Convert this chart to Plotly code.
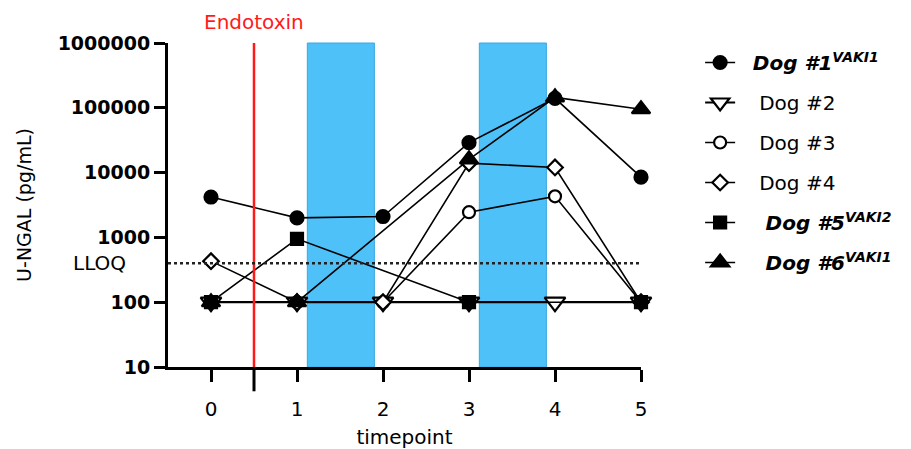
import math
import plotly.graph_objects as go

# Sampling timepoints and urinary NGAL per dog (pg/mL); None = no sample
timepoints = [0, 1, 2, 3, 4, 5]
dog1 = [4200, 2000, 2100, 29000, 140000, 8500]
dog2 = [100, 100, 100, 100, 100, 100]
dog3 = [100, 100, 100, 2450, 4300, 100]
dog4 = [430, 100, 100, 14000, 12000, 100]
dog5 = [100, 950, None, 100, None, 100]
dog6 = [100, 100, None, 16000, 145000, 95000]

lloq = 400
endotoxin_time = 0.5
treatment_windows = [(1.12, 1.9), (3.12, 3.9)]

y_ticks = [10, 100, 1000, 10000, 100000, 1000000]
y_tick_text = ["10", "100", "1000", "10000", "100000", "1000000"]
x_ticks = [0, 1, 2, 3, 4, 5]

FONT = "DejaVu Sans"
NB = "\u00a0"

series = [
    # name, values, symbol, size, filled, legend position
    (NB * 3 + "Dog #2", dog2, "triangle-down", 18, False, 2),
    (NB * 3 + "Dog #3", dog3, "circle", 12, False, 3),
    (NB * 3 + "Dog #4", dog4, "diamond", 12, False, 4),
    (NB * 4 + "<b><i>Dog #5<sup>VAKI2</sup></i></b>", dog5, "square", 12, True, 5),
    (NB * 4 + "<b><i>Dog #6<sup>VAKI1</sup></i></b>", dog6, "triangle-up", 16, True, 6),
    (NB * 2 + "<b><i>Dog #1<sup>VAKI1</sup></i></b>", dog1, "circle", 13, True, 1),
]

fig = go.Figure()
for name, vals, sym, size, filled, rank in series:
    fig.add_trace(go.Scatter(
        x=timepoints, y=vals, name=name, mode="lines+markers",
        connectgaps=True, cliponaxis=False, legendrank=rank,
        legendgroup=f"g{rank}",
        line=dict(color="black", width=2.2 if rank == 2 else 1.6),
        marker=dict(symbol=sym, size=size,
                    color="black" if filled else "white",
                    line=dict(color="black", width=2.2)),
    ))

shapes = []
for x0, x1 in treatment_windows:
    shapes.append(dict(type="rect", xref="x", yref="paper", x0=x0, x1=x1,
                       y0=0, y1=1, fillcolor="#4EC1F9",
                       line=dict(color="#3AA8E0", width=1), layer="below"))
# Endotoxin administration
shapes.append(dict(type="line", xref="x", yref="paper", x0=endotoxin_time,
                   x1=endotoxin_time, y0=0, y1=1,
                   line=dict(color="#FF1A1A", width=2.5)))
# Long tick marking the endotoxin time on the x axis
shapes.append(dict(type="line", xref="x", yref="paper", x0=endotoxin_time,
                   x1=endotoxin_time, y0=0, y1=-0.075,
                   line=dict(color="black", width=3)))
# Lower limit of quantification
shapes.append(dict(type="line", xref="paper", yref="y", x0=0, x1=1,
                   y0=lloq, y1=lloq,
                   line=dict(color="#222", width=2.5, dash="dot")))

annotations = [
    dict(text="Endotoxin", xref="x", yref="paper", x=endotoxin_time, y=1,
         yanchor="bottom", yshift=7, showarrow=False,
         font=dict(family=FONT, size=20, color="#FF1A1A")),
    # annotation positions on a log axis are given in log10 units
    dict(text="LLOQ", xref="paper", yref="y", x=0, y=math.log10(lloq),
         xanchor="right", xshift=-40, showarrow=False,
         font=dict(family=FONT, size=20, color="black")),
]

fig.update_layout(
    width=911, height=449,
    margin=dict(l=168, r=270, t=43, b=82),
    paper_bgcolor="white", plot_bgcolor="white",
    font=dict(family=FONT, size=20, color="black"),
    shapes=shapes, annotations=annotations,
    showlegend=True,
    legend=dict(x=1.125, y=1.0, xanchor="left", yanchor="top",
                font=dict(family=FONT, size=20, color="black"),
                traceorder="grouped",
                itemwidth=30, tracegroupgap=11, bgcolor="rgba(0,0,0,0)"),
    xaxis=dict(range=[-0.5, 5], tickmode="array", tickvals=x_ticks,
               automargin=False,
               showline=True, linecolor="black", linewidth=3,
               ticks="outside", ticklen=12, tickwidth=3, tickcolor="black",
               ticklabelstandoff=10,
               showgrid=False, zeroline=False,
               tickfont=dict(family=FONT, size=20),
               title=dict(text="timepoint", standoff=12,
                          font=dict(family=FONT, size=20))),
    yaxis=dict(type="log", range=[1, 6], tickmode="array", tickvals=y_ticks,
               automargin=False,
               ticktext=[f"<b>{t}</b>" for t in y_tick_text],
               showline=True, linecolor="black", linewidth=3,
               ticks="outside", ticklen=11, tickwidth=3, tickcolor="black",
               showgrid=False, zeroline=False,
               tickfont=dict(family=FONT, size=19),
               title=dict(text="U-NGAL (pg/mL)", standoff=22,
                          font=dict(family=FONT, size=19))),
)

fig.write_html("out.html")
